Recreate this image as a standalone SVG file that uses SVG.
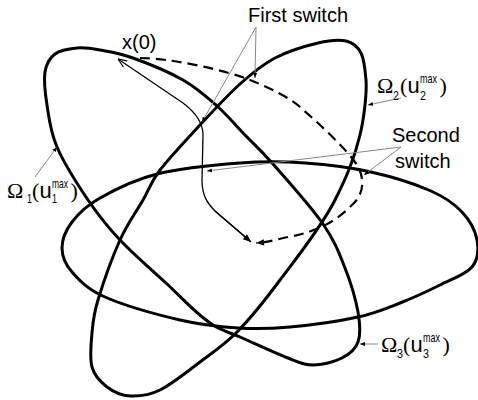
<svg xmlns="http://www.w3.org/2000/svg" width="478" height="400" viewBox="0 0 478 400">
<style>
.reg{fill:none;stroke:#000;stroke-width:3}
.traj{fill:none;stroke:#000;stroke-width:1.3}
.dash{fill:none;stroke:#000;stroke-width:2.2;stroke-dasharray:10 6}
.ptr{fill:none;stroke:#888;stroke-width:1}
.sans{font-family:"Liberation Sans",Arial,sans-serif;fill:#000}
.serif{font-family:"Liberation Serif","Times New Roman",serif;fill:#000}
</style>
<defs>
<marker id="tip" viewBox="0 0 10 10" refX="10" refY="5" markerWidth="5" markerHeight="5" orient="auto" markerUnits="userSpaceOnUse">
<path d="M0,1 L10,5 L0,9 z" fill="#000"/>
</marker>
<marker id="head" viewBox="0 0 10 10" refX="10" refY="5" markerWidth="10" markerHeight="8" orient="auto" markerUnits="userSpaceOnUse">
<path d="M0,1 L10,5 L0,9 z" fill="#000"/>
</marker>
<marker id="open" viewBox="0 0 10 10" refX="10" refY="5" markerWidth="9" markerHeight="9" orient="auto" markerUnits="userSpaceOnUse">
<path d="M0,1 L10,5 L0,9" fill="none" stroke="#000" stroke-width="1.3"/>
</marker>
</defs>

<g id="omega1">
<path class="reg" d="M45,72 C46.3,63.5 49.7,58 55,54 C60.3,50 69.5,48.7 77,48 C84.5,47.3 90.7,48.3 100,50 C109.3,51.7 119.2,53 133,58 C146.8,63 169,72 183,80 C197,88 206.7,96.8 217,106 C227.3,115.2 235.7,125.3 245,135 C254.3,144.7 260,149.2 273,164 C286,178.8 311,206.7 323,224 C335,241.3 339.2,253.3 345,268 C350.8,282.7 355.8,299.7 358,312 C360.2,324.3 360.7,334.3 358,342 C355.3,349.7 349.5,354.2 342,358 C334.5,361.8 322,365 313,365 C304,365 300.2,362.7 288,358 C275.8,353.3 255.9,344 240,337 C230.8,333 221.4,330.4 213,325 C195.4,313.7 181.5,297.2 166,283 C150.5,268.8 133,253.8 120,240 C107,226.2 98.5,215.5 88,200 C77.5,184.5 63.8,162.8 57,147 C50.2,131.2 49,117.5 47,105 C45,92.5 43.7,80.5 45,72 Z"/>
</g>

<g id="omega2">
<path class="reg" d="M92,367 C89.5,358 91,344.2 92,333 C93,321.8 93.3,315.5 98,300 C102.7,284.5 112.5,256.7 120,240 C127.5,223.3 136.3,211.7 143,200 C149.7,188.3 150.5,182.5 160,170 C169.5,157.5 186.7,139.3 200,125 C213.3,110.7 227.5,95.2 240,84 C252.5,72.8 262,64.8 275,58 C288,51.2 306.2,45.8 318,43 C329.8,40.2 338.8,39.3 346,41 C353.2,42.7 357.7,46.5 361,53 C364.3,59.5 365.3,71.3 366,80 C366.7,88.7 366,95.8 365,105 C364,114.2 362.5,124.7 360,135 C357.5,145.3 354.2,156.2 350,167 C345.8,177.8 340.4,189.3 335,200 C320.6,228.5 296.2,258.2 280,280 C263.8,301.8 251.3,317.3 238,331 C224.7,344.7 213,352.2 200,362 C187,371.8 171.7,384.3 160,390 C148.3,395.7 138.8,396.5 130,396 C121.2,395.5 113.3,391.8 107,387 C100.7,382.2 94.5,376 92,367 Z"/>
</g>

<g id="omega3">
<path class="reg" d="M62,248 C62,239.7 65.7,230.3 72,222 C78.3,213.7 85.8,206 100,198 C114.2,190 133.7,179.8 157,174 C180.3,168.2 215.3,164.8 240,163 C264.7,161.2 283.2,161.5 305,163 C326.8,164.5 350,167.3 371,172 C392,176.7 415.8,184.3 431,191 C446.2,197.7 454.3,203.8 462,212 C469.7,220.2 475.3,230.8 477,240 C478.7,249.2 478.2,259.5 472,267 C465.8,274.5 452,279 440,285 C428,291 413.7,297.7 400,303 C386.3,308.3 376.3,313 358,317 C339.7,321 310,325.2 290,327 C270,328.8 256.3,329.2 238,328 C219.7,326.8 202.2,325.2 180,320 C157.8,314.8 123,305 105,297 C87,289 79.2,280.2 72,272 C64.8,263.8 62,256.3 62,248 Z"/>
</g>

<g id="connectors">
<path class="traj" d="M250,241 L215,211 C207,203 202,195 202,180 L203,135 C203,122 195,112 183,103 L118,59" marker-end="url(#open)"/>
<path class="traj" d="M215,211 L251,242" marker-end="url(#head)"/>
<path class="dash" d="M140,58 C170,58 225,70 250,80 C270,88 290,98 300,107 C315,120 348,150 357,165 C365,178 364,194 353,204 C343,214 333,222 321,227 C310,232 300,235 288,237 C278,239 270,242 256,243" marker-end="url(#head)"/>
<line class="ptr" x1="256" y1="27" x2="202" y2="122" marker-end="url(#tip)"/>
<line class="ptr" x1="256" y1="27" x2="255" y2="78" marker-end="url(#tip)"/>
<line class="ptr" x1="401" y1="147" x2="207" y2="171" marker-end="url(#tip)"/>
<line class="ptr" x1="401" y1="147" x2="364" y2="175" marker-end="url(#tip)"/>
<line class="ptr" x1="35" y1="177" x2="57" y2="147" marker-end="url(#tip)"/>
<line class="ptr" x1="401" y1="98" x2="368" y2="105" marker-end="url(#tip)"/>
<line class="ptr" x1="378" y1="344" x2="360" y2="344" marker-end="url(#tip)"/>
</g>

<g id="labels">
<text class="sans" x="122" y="49" font-size="20">x(0)</text>
<text class="sans" x="248" y="22" font-size="20">First switch</text>
<text class="sans" x="392" y="142" font-size="20">Second</text>
<text class="sans" x="395" y="168" font-size="20">switch</text>

<g id="label-omega1">
<text class="serif" x="7" y="198" font-size="22">Ω</text>
<text class="sans" x="27" y="203" font-size="12" textLength="5" lengthAdjust="spacingAndGlyphs">1</text>
<text class="serif" x="32" y="198" font-size="22">(</text>
<text class="sans" x="39.5" y="198" font-size="22">u</text>
<text class="sans" x="52" y="188" font-size="13" textLength="16" lengthAdjust="spacingAndGlyphs">max</text>
<text class="sans" x="52" y="203" font-size="12" textLength="5" lengthAdjust="spacingAndGlyphs">1</text>
<text class="serif" x="70.5" y="198" font-size="22">)</text>
</g>
<g id="label-omega2">
<text class="serif" x="377" y="93" font-size="22">Ω</text>
<text class="sans" x="393" y="100" font-size="12" textLength="6" lengthAdjust="spacingAndGlyphs">2</text>
<text class="serif" x="400" y="93" font-size="22">(</text>
<text class="sans" x="407.5" y="93" font-size="22">u</text>
<text class="sans" x="420" y="83" font-size="13" textLength="17" lengthAdjust="spacingAndGlyphs">max</text>
<text class="sans" x="420" y="100" font-size="12" textLength="6" lengthAdjust="spacingAndGlyphs">2</text>
<text class="serif" x="439.5" y="93" font-size="22">)</text>
</g>
<g id="label-omega3">
<text class="serif" x="381" y="352" font-size="22">Ω</text>
<text class="sans" x="397" y="358" font-size="12" textLength="6" lengthAdjust="spacingAndGlyphs">3</text>
<text class="serif" x="403" y="352" font-size="22">(</text>
<text class="sans" x="410.5" y="352" font-size="22">u</text>
<text class="sans" x="423" y="342" font-size="13" textLength="17" lengthAdjust="spacingAndGlyphs">max</text>
<text class="sans" x="423" y="358" font-size="12" textLength="6" lengthAdjust="spacingAndGlyphs">3</text>
<text class="serif" x="442.5" y="352" font-size="22">)</text>
</g>
</g>
</svg>
